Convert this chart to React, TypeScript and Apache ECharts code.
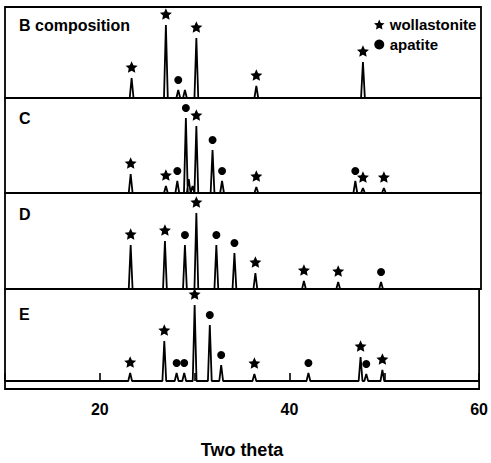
import React, { useEffect, useRef } from "react";
import * as echarts from "echarts";

const bPeaks: [number, number][] = [[23.3, 20], [26.9, 73], [28.2, 8], [28.9, 8], [30.1, 60], [36.4, 12], [47.6, 36]];
const cPeaks: [number, number][] = [[23.2, 19], [26.9, 7], [28.1, 12], [29.0, 75], [29.3, 14], [29.7, 7], [30.1, 67], [31.8, 43], [32.8, 12], [36.4, 6], [46.8, 12], [47.6, 5], [49.8, 5]];
const dPeaks: [number, number][] = [[23.2, 44], [26.8, 48], [28.9, 44], [30.1, 76], [32.2, 44], [34.1, 36], [36.3, 16], [41.4, 8], [45.0, 7], [49.5, 7]];
const ePeaks: [number, number][] = [[23.2, 8], [26.8, 40], [28.1, 8], [28.9, 8], [30.0, 76], [31.6, 56], [32.8, 16], [36.3, 7], [42.0, 8], [47.5, 24], [48.1, 7], [49.8, 11]];

// Phase assignment of peaks
const bWollastonite = [23.3, 26.9, 30.1, 36.4, 47.6];
const bApatite = [28.2];
const cWollastonite = [23.2, 26.9, 30.1, 36.4, 47.6, 49.8];
const cApatite = [28.1, 29.0, 31.8, 32.8, 46.8];
const dWollastonite = [23.2, 26.8, 30.1, 36.3, 41.4, 45.0];
const dApatite = [28.9, 32.2, 34.1, 49.5];
const eWollastonite = [23.2, 26.8, 30.0, 36.3, 47.5, 49.8];
const eApatite = [28.1, 28.9, 31.6, 32.8, 42.0, 48.1];

const panelLabels = ["B composition", "C", "D", "E"];
const xTickLabels = [20, 40, 60];
const xMin = 10;
const xMax = 60;

const STAR =
  "path://M50,0 L64.11,30.58 L97.55,34.55 L72.83,57.42 L79.39,90.45 L50,74 L20.61,90.45 L27.17,57.42 L2.45,34.55 L35.89,30.58 Z";
const FONT = "'Liberation Sans', Arial, Helvetica, sans-serif";
const INK = "#000";

function profile(peaks: [number, number][]): number[][] {
  const w = 0.2;
  const pts: number[][] = [[xMin, 0]];
  peaks.forEach(([x, h]) => {
    pts.push([x - w, 0], [x, h], [x + w, 0]);
  });
  pts.push([xMax, 0]);
  return pts;
}

function marks(peaks: [number, number][], xs: number[]): number[][] {
  return xs.map((x) => {
    const p = peaks.find((q) => Math.abs(q[0] - x) < 1e-6);
    return [x, p ? p[1] : 0];
  });
}

export default function App() {
  const ref = useRef<HTMLDivElement>(null);
  useEffect(() => {
    if (!ref.current) return;
    const chart = echarts.init(ref.current, null, { renderer: "svg" });
    const panels = [
      { peaks: bPeaks, w: bWollastonite, a: bApatite, top: 7, height: 91, ymin: 0, ymax: 91 },
      { peaks: cPeaks, w: cWollastonite, a: cApatite, top: 98, height: 95, ymin: 0, ymax: 95 },
      { peaks: dPeaks, w: dWollastonite, a: dApatite, top: 193, height: 96, ymin: 0, ymax: 96 },
      { peaks: ePeaks, w: eWollastonite, a: eApatite, top: 289, height: 100, ymin: -8, ymax: 92 },
    ];
    const labelY = [26, 119, 215.5, 315.5];
    const series: any[] = [];
    panels.forEach((p, i) => {
      series.push({
        type: "line",
        xAxisIndex: i,
        yAxisIndex: i,
        data: profile(p.peaks),
        showSymbol: false,
        symbol: "none",
        lineStyle: { color: INK, width: 1.8 },
        silent: true,
      });
      series.push({
        type: "scatter",
        name: "wollastonite",
        xAxisIndex: i,
        yAxisIndex: i,
        data: marks(p.peaks, p.w),
        symbol: STAR,
        symbolSize: 12,
        symbolKeepAspect: true,
        symbolOffset: [0, -11],
        itemStyle: { color: INK, opacity: 1 },
      });
      series.push({
        type: "scatter",
        name: "apatite",
        xAxisIndex: i,
        yAxisIndex: i,
        data: marks(p.peaks, p.a),
        symbol: "circle",
        symbolSize: 8,
        symbolOffset: [0, -10],
        itemStyle: { color: INK, opacity: 1 },
      });
    });
    chart.setOption({
      animation: false,
      backgroundColor: "#fff",
      grid: panels.map((p) => ({
        left: 5,
        right: 10,
        top: p.top,
        height: p.height,
        show: true,
        borderColor: INK,
        borderWidth: 1.8,
        containLabel: false,
      })),
      xAxis: panels.map((p, i) => {
        const last = i === panels.length - 1;
        return {
          type: "value",
          gridIndex: i,
          min: xMin,
          max: xMax,
          interval: 10,
          show: last,
          axisLine: { show: false },
          splitLine: { show: false },
          axisTick: { show: last, inside: true, length: 8, lineStyle: { color: INK, width: 1.6 } },
          axisLabel: {
            show: last,
            margin: 12,
            color: INK,
            fontFamily: FONT,
            fontWeight: "bold",
            fontSize: 16,
            formatter: (v: number) => (xTickLabels.includes(v) ? String(v) : ""),
          },
          name: last ? "Two theta" : "",
          nameLocation: "middle",
          nameGap: 52,
          nameTextStyle: { color: INK, fontFamily: FONT, fontWeight: "bold", fontSize: 18 },
        };
      }),
      yAxis: panels.map((p, i) => ({
        type: "value",
        gridIndex: i,
        min: p.ymin,
        max: p.ymax,
        show: false,
        splitLine: { show: false },
      })),
      legend: {
        orient: "vertical",
        left: 374,
        top: 17,
        padding: 0,
        itemWidth: 11,
        itemHeight: 10,
        itemGap: 5,
        selectedMode: false,
        itemStyle: { color: INK, opacity: 1 },
        data: [
          { name: "wollastonite", icon: STAR },
          { name: "apatite", icon: "circle" },
        ],
        textStyle: { color: INK, fontFamily: FONT, fontWeight: "bold", fontSize: 15 },
      },
      graphic: panelLabels.map((t, i) => ({
        type: "text",
        left: 19,
        top: labelY[i] - 9,
        style: { text: t, fill: INK, font: `bold 16px ${FONT}` },
      })),
      series,
    });
    return () => chart.dispose();
  }, []);
  return <div ref={ref} style={{ position: "absolute", left: 0, top: 0, width: 491, height: 463 }} />;
}
